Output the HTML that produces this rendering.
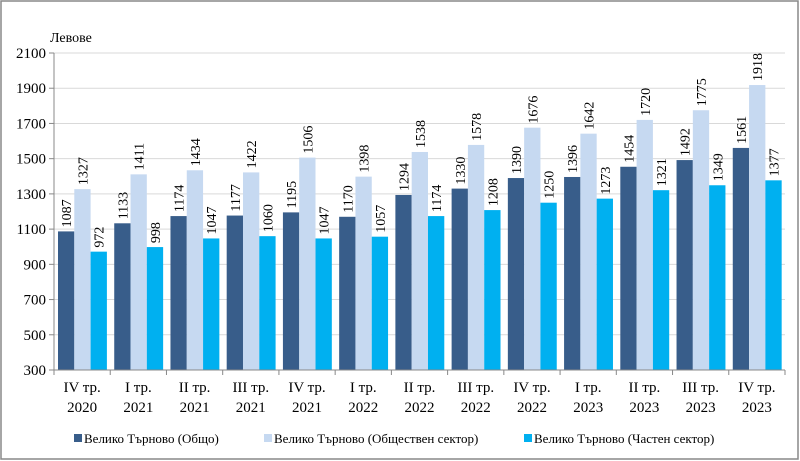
<!DOCTYPE html>
<html><head><meta charset="utf-8"><style>
body{margin:0;background:#fff}
svg{font-family:"Liberation Serif",serif;display:block}
</style></head><body>
<svg id="c" width="800" height="461">
<rect x="1" y="1" width="797" height="458" fill="#fff" stroke="#888" stroke-width="1.5"/>
<text x="50" y="42" font-size="14">Левове</text>
<g id="grid"></g><g id="bars"></g><g id="axes"></g>
<g font-size="13">
<g><rect x="74" y="434" width="8" height="8" fill="#385d8a"/><text x="84" y="443">Велико Търново (Общо)</text></g>
<g><rect x="264" y="434" width="8" height="8" fill="#c6d9f1"/><text x="274" y="443">Велико Търново (Обществен сектор)</text></g>
<g><rect x="524" y="434" width="8" height="8" fill="#00b0f0"/><text x="534" y="443">Велико Търново (Частен сектор)</text></g>
</g>
</svg>
<script>
const categories=[["IV тр.","2020"],["I тр.","2021"],["II тр.","2021"],["III тр.","2021"],["IV тр.","2021"],["I тр.","2022"],["II тр.","2022"],["III тр.","2022"],["IV тр.","2022"],["I тр.","2023"],["II тр.","2023"],["III тр.","2023"],["IV тр.","2023"]];
const totalValues=[1087,1133,1174,1177,1195,1170,1294,1330,1390,1396,1454,1492,1561];
const publicValues=[1327,1411,1434,1422,1506,1398,1538,1578,1676,1642,1720,1775,1918];
const privateValues=[972,998,1047,1060,1047,1057,1174,1208,1250,1273,1321,1349,1377];
const yTicks=[300,500,700,900,1100,1300,1500,1700,1900,2100];
const NS="http://www.w3.org/2000/svg";
const X0=54,X1=785,Y0=370,Y1=53,vmin=300,vmax=2100;
const y=v=>Y0-(v-vmin)/(vmax-vmin)*(Y0-Y1);
const cw=(X1-X0)/categories.length;
function mk(t,a,p){const e=document.createElementNS(NS,t);for(const k in a)e.setAttribute(k,a[k]);p.appendChild(e);return e;}
const grid=document.getElementById('grid'),bars=document.getElementById('bars'),axes=document.getElementById('axes');
yTicks.forEach(t=>{
 const l=mk('line',{x1:X0,x2:X1,y1:y(t),y2:y(t),stroke:'#d9d9d9'},grid);
 
 
 mk('line',{x1:X0-5,x2:X0,y1:y(t),y2:y(t),stroke:'#888'},axes);
 const tx=mk('text',{x:X0-8,y:y(t)+5,'text-anchor':'end','font-size':15},axes);tx.textContent=t;
 
 
});
mk('line',{x1:X0,x2:X0,y1:Y1,y2:Y0,stroke:'#888'},axes);
mk('line',{x1:X0,x2:X1,y1:Y0,y2:Y0,stroke:'#888'},axes);
const series=[[totalValues,'#385d8a','bar-total'],[publicValues,'#c6d9f1','bar-public'],[privateValues,'#00b0f0','bar-private']];
const bw=16.3,off=4;
categories.forEach((c,i)=>{
 const cx=X0+i*cw;
 mk('line',{x1:cx,x2:cx,y1:Y0,y2:Y0+5,stroke:'#888'},axes);
 series.forEach((s,j)=>{
  const v=s[0][i],bx=cx+off+j*bw,by=y(v);
  const r=mk('rect',{x:bx,y:by,width:bw,height:Y0-by,fill:s[1]},bars);
  
  
  const lx=bx+bw/2+5,ly=by-4;
  const t=mk('text',{x:lx,y:ly,'font-size':14,transform:`rotate(-90 ${lx} ${ly})`},bars);t.textContent=v;
  
  
 });
 const t1=mk('text',{x:cx+cw/2,y:392,'text-anchor':'middle','font-size':15},axes);t1.textContent=c[0];
 
 
 const t2=mk('text',{x:cx+cw/2,y:412,'text-anchor':'middle','font-size':15},axes);t2.textContent=c[1];
 
 
});
mk('line',{x1:X1,x2:X1,y1:Y0,y2:Y0+5,stroke:'#888'},axes);
</script>
</body></html>
